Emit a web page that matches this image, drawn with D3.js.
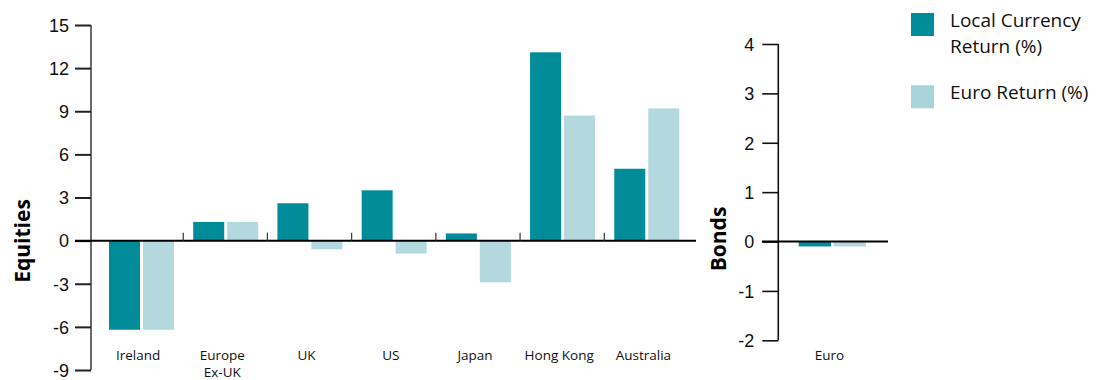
<!DOCTYPE html>
<html>
<head>
<meta charset="utf-8">
<script src="https://cdn.jsdelivr.net/npm/d3@7"></script>
<style>
  html, body { margin: 0; padding: 0; background: #fff; }
  svg { display: block; font-family: "Open Sans", "Noto Sans", sans-serif; }
</style>
</head>
<body>
<svg id="chart" width="1102" height="380"></svg>
<script>
// ---- Data ----
const equityCategories = ["Ireland", "Europe\nEx-UK", "UK", "US", "Japan", "Hong Kong", "Australia"];
const equityLocal = [-6.2, 1.3, 2.6, 3.5, 0.5, 13.1, 5.0];
const equityEuro  = [-6.2, 1.3, -0.6, -0.9, -2.9, 8.7, 9.2];
const equityTicks = [15, 12, 9, 6, 3, 0, -3, -6, -9];

const bondCategories = ["Euro"];
const bondLocal = [-0.1];
const bondEuro  = [-0.1];
const bondTicks = [4, 3, 2, 1, 0, -1, -2];

const seriesKeys = ["local", "euro"];
const seriesNames = ["Local Currency\nReturn (%)", "Euro Return (%)"];
const colors = { local: "#008C98", euro: "#B3D8DD" };

// ---- Layout ----
const svg = d3.select("#chart");
const textColor = "#111";
const fmt = d => String(d);

// ===== Equities panel =====
const eqY = d3.scaleLinear().domain([-9, 15]).range([370, 25]);
const eqX = d3.scaleBand().domain(equityCategories).range([99, 688.5]).padding(0);
const eqX1 = d3.scaleBand().domain(seriesKeys).range([10, 75]).paddingInner(3 / 34).paddingOuter(0);

const eqData = equityCategories.map((c, i) => ({ cat: c, local: equityLocal[i], euro: equityEuro[i] }));

const eqG = svg.append("g");
eqG.selectAll("g.cat").data(eqData).join("g")
  .attr("class", "cat")
  .attr("transform", d => `translate(${eqX(d.cat)},0)`)
  .selectAll("rect").data(d => seriesKeys.map(k => ({ key: k, value: d[k] }))).join("rect")
  .attr("x", d => eqX1(d.key))
  .attr("width", eqX1.bandwidth())
  .attr("y", d => eqY(Math.max(0, d.value)))
  .attr("height", d => Math.abs(eqY(d.value) - eqY(0)))
  .attr("fill", d => colors[d.key]);

// y axis
const eqAxis = d3.axisLeft(eqY).tickValues(equityTicks).tickSize(16).tickPadding(6).tickFormat(fmt);
const eqAxisG = svg.append("g").attr("transform", "translate(91,0)").call(eqAxis);
eqAxisG.select(".domain").attr("stroke", "#6b6b6b").attr("stroke-width", 2).attr("d", `M0,${eqY(15)}V${eqY(-9)}`);
eqAxisG.selectAll(".tick line").attr("stroke", "#222").attr("stroke-width", 2);
eqAxisG.selectAll(".tick text").attr("fill", textColor).style("font-size", "18px").attr("dy", "0.35em");

// zero baseline
svg.append("line")
  .attr("x1", 75).attr("x2", 696)
  .attr("y1", eqY(0)).attr("y2", eqY(0))
  .attr("stroke", "#000").attr("stroke-width", 2);

// category separator ticks
svg.append("g").selectAll("line").data(equityCategories.slice(1)).join("line")
  .attr("x1", d => eqX(d)).attr("x2", d => eqX(d))
  .attr("y1", eqY(0) - 8).attr("y2", eqY(0))
  .attr("stroke", "#333").attr("stroke-width", 1.2);

// category labels (each line its own text element)
const labelLines = [];
equityCategories.forEach(c => {
  c.split("\n").forEach((l, i) => labelLines.push({ cat: c, text: l, line: i }));
});
svg.append("g").selectAll("text").data(labelLines).join("text")
  .attr("x", d => eqX(d.cat) + eqX.bandwidth() / 2 - 3)
  .attr("y", d => d.line === 0 ? 360 : 377)
  .attr("text-anchor", "middle")
  .attr("fill", textColor)
  .style("font-size", "13.5px")
  .text(d => d.text);

// Equities title
svg.append("text")
  .attr("transform", `translate(30,241) rotate(-90)`)
  .attr("text-anchor", "middle")
  .attr("fill", "#000")
  .style("font-size", "21px").style("font-weight", "bold")
  .text("Equities");

// ===== Bonds panel =====
const bY = d3.scaleLinear().domain([-2, 4]).range([340.3, 44]);
const bX = d3.scaleBand().domain(bondCategories).range([788.7, 876]).padding(0);
const bX1 = d3.scaleBand().domain(seriesKeys).range([10, 77.3]).paddingInner(2.7 / 34.4).paddingOuter(0);
const bData = bondCategories.map((c, i) => ({ cat: c, local: bondLocal[i], euro: bondEuro[i] }));

svg.append("g").selectAll("g.cat").data(bData).join("g")
  .attr("class", "cat")
  .attr("transform", d => `translate(${bX(d.cat)},0)`)
  .selectAll("rect").data(d => seriesKeys.map(k => ({ key: k, value: d[k] }))).join("rect")
  .attr("x", d => bX1(d.key))
  .attr("width", bX1.bandwidth())
  .attr("y", d => bY(Math.max(0, d.value)))
  .attr("height", d => Math.abs(bY(d.value) - bY(0)))
  .attr("fill", d => colors[d.key]);

const bAxis = d3.axisLeft(bY).tickValues(bondTicks).tickSize(16).tickPadding(8).tickFormat(fmt);
const bAxisG = svg.append("g").attr("transform", "translate(778.3,0)").call(bAxis);
bAxisG.select(".domain").attr("stroke", "#111").attr("stroke-width", 1.6).attr("d", `M0,${bY(4)}V${bY(-2)}`);
bAxisG.selectAll(".tick line").attr("stroke", "#111").attr("stroke-width", 1.6);
bAxisG.selectAll(".tick text").attr("fill", textColor).style("font-size", "18px").attr("dy", "0.35em");

svg.append("line")
  .attr("x1", 762).attr("x2", 888)
  .attr("y1", bY(0)).attr("y2", bY(0))
  .attr("stroke", "#000").attr("stroke-width", 2);

svg.append("g").selectAll("text").data(bondCategories).join("text")
  .attr("x", d => bX(d) + bX.bandwidth() / 2 - 3)
  .attr("y", 360)
  .attr("text-anchor", "middle")
  .attr("fill", textColor)
  .style("font-size", "13.5px")
  .text(d => d);

svg.append("text")
  .attr("transform", `translate(726,239) rotate(-90)`)
  .attr("text-anchor", "middle")
  .attr("fill", "#000")
  .style("font-size", "21px").style("font-weight", "bold")
  .text("Bonds");

// ===== Legend =====
const legend = svg.append("g").attr("transform", "translate(911,13)");
const legendY = [0, 72.3];
seriesKeys.forEach((k, i) => {
  const g = legend.append("g").attr("transform", `translate(0,${legendY[i]})`);
  g.append("rect").attr("width", 23).attr("height", 23).attr("fill", k === "euro" ? "#A9D4D9" : colors[k]);
  seriesNames[i].split("\n").forEach((line, j) => {
    g.append("text").attr("x", 39).attr("y", 14 + j * 25.5)
      .attr("fill", textColor).style("font-size", "19px").text(line);
  });
});
</script>
</body>
</html>
